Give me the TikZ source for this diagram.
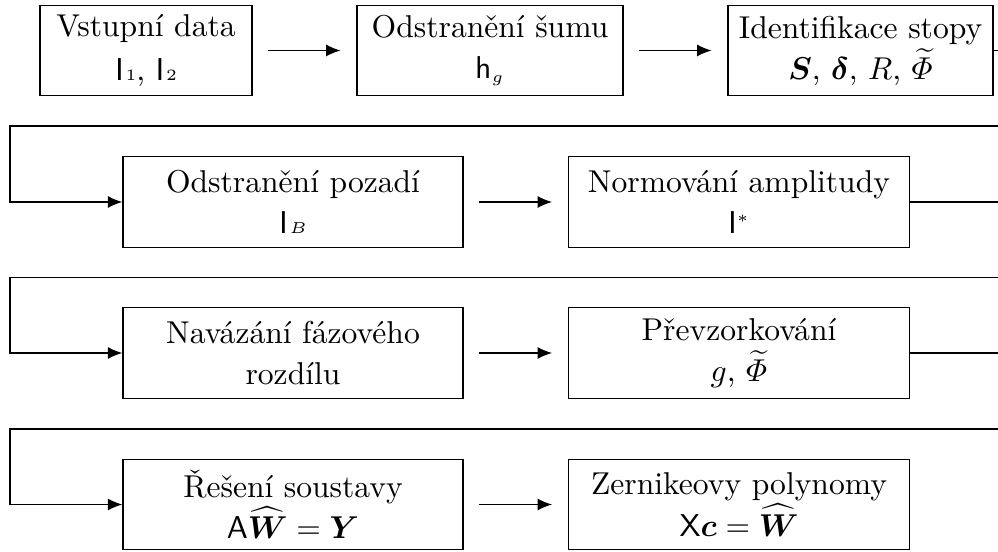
\documentclass[tikz,border=0pt]{standalone}
\usepackage{amsmath}
\usetikzlibrary{arrows.meta}
\newcommand\lsubs[2]{\mathsf{#1}\mkern1mu{\scriptscriptstyle #2}}
\begin{document}
\begin{tikzpicture}[x=0.3165pt,y=-0.3165pt,
  blk/.style={draw, align=center, inner sep=0pt, minimum height=90.5*0.3165pt,
    font=\fontsize{10}{13}\selectfont},
  tip/.style={-{Latex[length=4.6pt,width=3.8pt]}},
  arr/.style={tip, shorten >=5pt, shorten <=5pt},
  loopline/.style={tip}]
\useasboundingbox (0,0) rectangle (998,552);
\clip (0,0) rectangle (998,552);
% row 1
\node[blk, minimum width=212*0.3165pt] (b1) at (146,50.5) {Vstupní data\\[1pt] $\lsubs{I}{1}$, $\lsubs{I}{2}$};
\node[blk, minimum width=266*0.3165pt] (b2) at (490,50.5) {Odstranění šumu\\ $\mathsf{h}_{\scriptscriptstyle g}$};
\node[blk, minimum width=265*0.3165pt] (b3) at (860.5,50.5) {Identifikace stopy\\ $\boldsymbol{S}$, $\boldsymbol{\delta}$, $R$, $\widetilde{\varPhi}$};
% row 2
\node[blk, minimum width=340*0.3165pt] (b4) at (293,202) {Odstranění pozadí\\ $\lsubs{I}{B}$};
\node[blk, minimum width=341*0.3165pt] (b5) at (739,202) {Normování amplitudy\\ $\mathsf{I}^{\scriptscriptstyle *}$};
% row 3
\node[blk, minimum width=340*0.3165pt] (b6) at (293,353) {Navázání fázového\\ rozdílu};
\node[blk, minimum width=341*0.3165pt] (b7) at (739,353) {Převzorkování\\ $g$, $\widetilde{\varPhi}$};
% row 4
\node[blk, minimum width=340*0.3165pt] (b8) at (293,504.5) {Řešení soustavy\\ $\mathsf{A}\widehat{\boldsymbol{W}}=\boldsymbol{Y}$};
\node[blk, minimum width=341*0.3165pt] (b9) at (739,504.5) {Zernikeovy polynomy\\ $\mathsf{X}\boldsymbol{c}=\widehat{\boldsymbol{W}}$};
% straight arrows
\draw[arr] (b1) -- (b2);
\draw[arr] (b2) -- (b3);
\draw[arr] (b4) -- (b5);
\draw[arr] (b6) -- (b7);
\draw[arr] (b8) -- (b9);
% loop-back connectors
\coordinate (r1) at (1020,126); \coordinate (l1) at (10,126);
\coordinate (r2) at (1020,277.5); \coordinate (l2) at (10,277.5);
\coordinate (r3) at (1020,429); \coordinate (l3) at (10,429);
\draw[loopline] (b3.east) -| (r1) -- (l1) |- (b4.west);
\draw[loopline] (b5.east) -| (r2) -- (l2) |- (b6.west);
\draw[loopline] (b7.east) -| (r3) -- (l3) |- (b8.west);
\end{tikzpicture}
\end{document}
